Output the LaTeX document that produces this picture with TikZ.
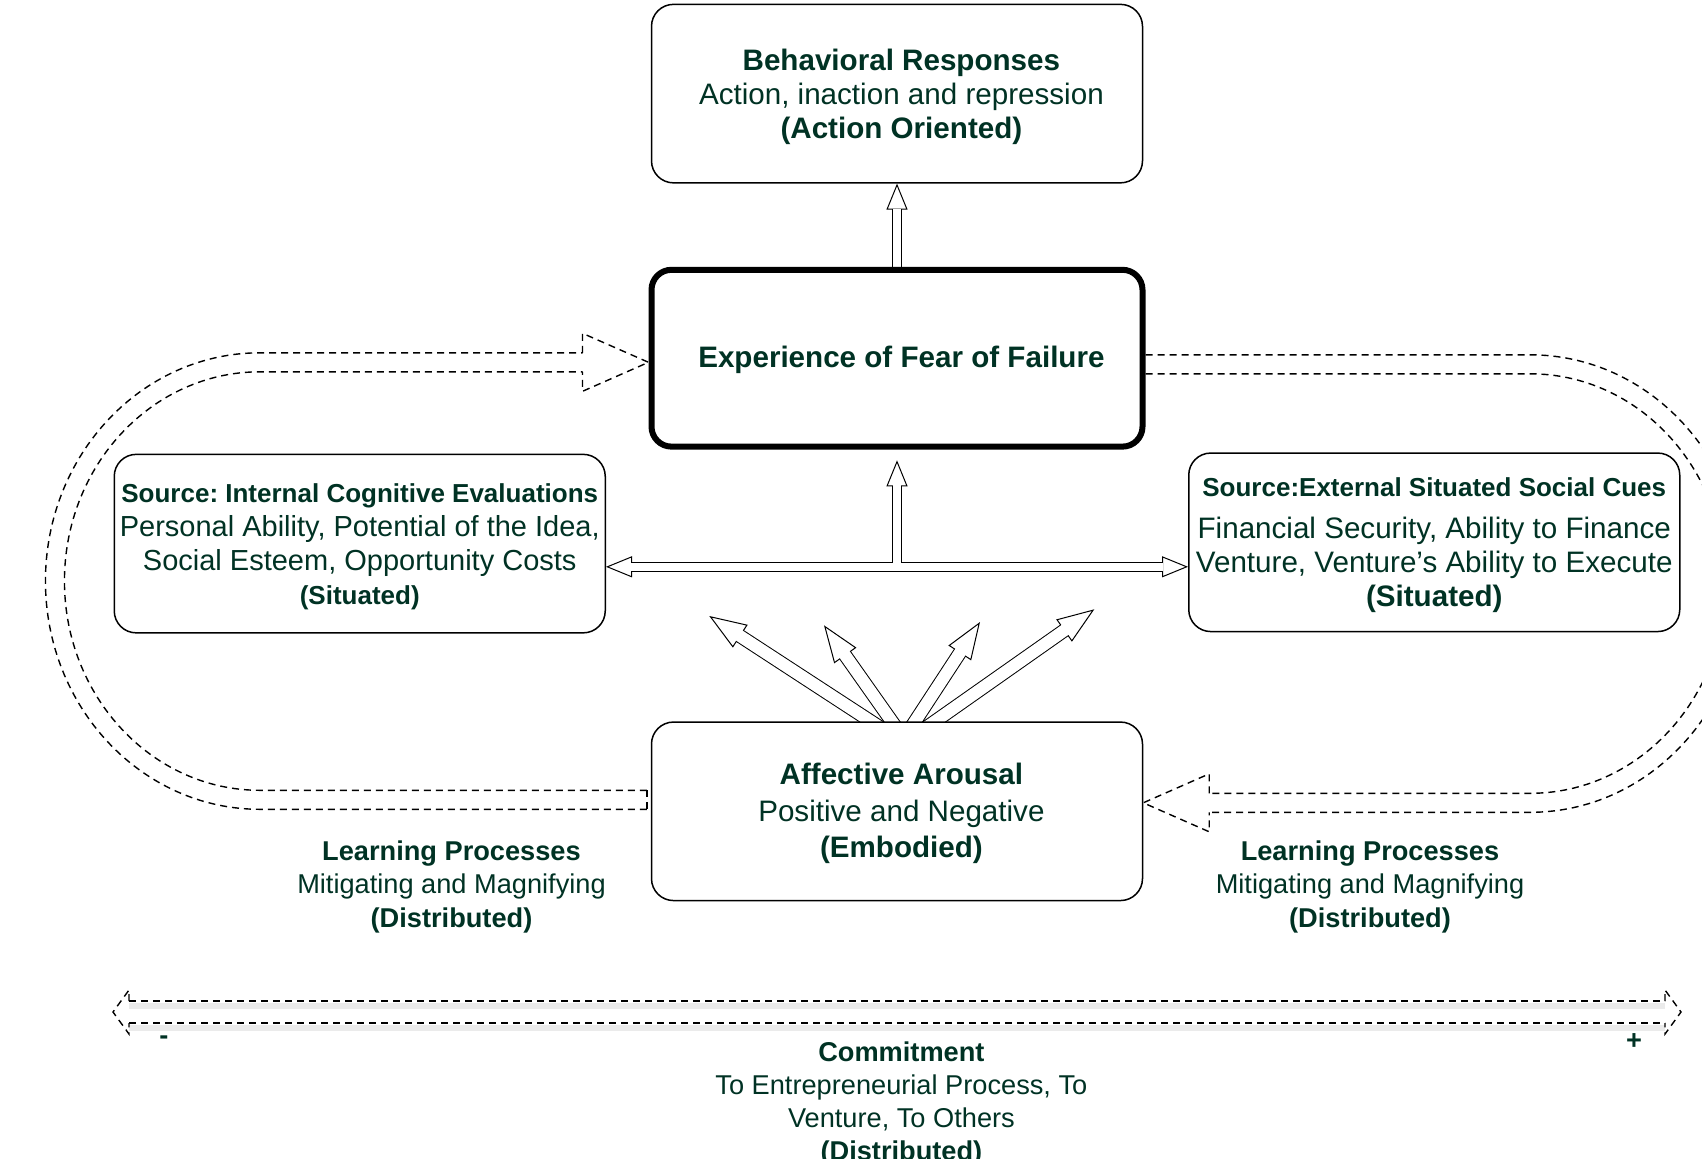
\documentclass[tikz,border=0pt]{standalone}
\usepackage{fontspec}
\setmainfont{Liberation Sans}
\usepackage{tikz}
\usetikzlibrary{positioning, arrows.meta, backgrounds}
\frenchspacing
\definecolor{inkgreen}{RGB}{0,50,36}
\newcommand{\rs}{\hspace*{4.4pt}}
\tikzstyle{mainbox} = [rectangle, rounded corners=11pt,
minimum width=245.5pt,
minimum height=89.25pt,
inner sep=1pt,
text centered, align=center, text depth=-1pt,
draw=black, line width=0.75pt, fill=white,
text=inkgreen, font=\fontsize{14.8}{17}\selectfont]
\tikzstyle{fearbox} = [mainbox, minimum height=88.4pt, line width=3pt, rounded corners=10pt]
\tikzstyle{notetext} = [align=center, inner sep=0pt, text=inkgreen,
font=\fontsize{13.6}{16.75}\selectfont]
\tikzstyle{flex} = [draw=white, line width=4pt, shorten >=12.5pt,
preaction={draw=white, line width=0.1pt, shorten >=0pt,
-{Triangle[open, color=black, line width=0.5pt, length=13pt, width=10.5pt]}},
preaction={draw=black, line width=5pt, shorten >=12.8pt}]
\tikzstyle{fanflex} = [draw=white, line width=6pt, shorten >=17.5pt,
preaction={draw=white, line width=0.1pt, shorten >=0pt,
-{Triangle[open, color=black, line width=0.5pt, length=18.5pt, width=13.5pt]}},
preaction={draw=black, line width=7pt, shorten >=18.2pt}]
\tikzstyle{dashline} = [draw=black, line width=0.7pt, dash pattern=on 3.5pt off 2.5pt]

\begin{document}
\begin{tikzpicture}
\useasboundingbox (0,0) rectangle (851pt,-579pt);
% boxes
\node (beh) [mainbox] at (448.5pt,-46.8pt) {\rs{\bfseries Behavioral Responses}\\
\rs Action, inaction and repression\\\rs{\bfseries (Action Oriented)}};
\node (fear) [fearbox, below=41.6pt of beh, text depth=1pt] {\rs\bfseries Experience of Fear of Failure};
\node (affect) [mainbox, below=135.85pt of fear, text depth=1pt,
font=\fontsize{14.8}{18.25}\selectfont]
{\rs{\bfseries Affective Arousal}\\\rs Positive and Negative\\\rs{\bfseries (Embodied)}};
\node (internal) [mainbox, below left=2pt and 21.25pt of fear, text depth=-2pt]
{{\fontsize{13}{17}\selectfont\bfseries Source: Internal Cognitive Evaluations}\\
{\fontsize{14.5}{17}\selectfont Personal Ability, Potential of the Idea,}\\
{\fontsize{14.5}{17}\selectfont Social Esteem, Opportunity Costs}\\
{\fontsize{13}{17}\selectfont\bfseries (Situated)}};
\node (external) [mainbox, below right=1.35pt and 21.25pt of fear]
{{\fontsize{13}{17}\selectfont\bfseries Source:External Situated Social Cues}\\[4pt]
Financial Security, Ability to Finance\\
Venture, Venture’s Ability to Execute\\
{\bfseries (Situated)}};
% labels
\node (learnleft) [notetext] at (225.75pt,-443.35pt)
{{\bfseries Learning Processes}\\Mitigating and Magnifying\\{\bfseries (Distributed)}};
\node (learnright) [notetext] at (685pt,-443.35pt)
{{\bfseries Learning Processes}\\Mitigating and Magnifying\\{\bfseries (Distributed)}};
\node (commit) [notetext, font=\fontsize{13.6}{16.5}\selectfont] at (450.7pt,-551.85pt)
{{\bfseries Commitment}\\To Entrepreneurial Process, To\\Venture, To Others\\{\bfseries (Distributed)}};
\node (minus) [notetext, font=\bfseries\fontsize{13.6}{16}\selectfont] at (82pt,-520pt) {-};
\node (plus) [notetext, font=\bfseries\fontsize{13.6}{16}\selectfont] at (817pt,-521pt) {+};

\coordinate (lefttip) at ([yshift=-11.6pt]internal.east);
\coordinate (hub) at (lefttip -| fear.south);
\coordinate (righttip) at (hub -| external.west);
\coordinate (hubtop) at ([yshift=-5.35pt]fear.south);
\coordinate (fan1) at ([shift={(-93.85pt,52.65pt)}]affect.north);
\coordinate (fan2) at ([shift={(-36.5pt,48pt)}]affect.north);
\coordinate (fan3) at ([shift={(41.5pt,49.65pt)}]affect.north);
\coordinate (fan4) at ([shift={(98.65pt,56pt)}]affect.north);
\coordinate (ltail) at ([xshift=-1.9pt, yshift=5.75pt]affect.west);
\coordinate (ltip) at ([yshift=-2.05pt]fear.west);
\coordinate (lhead) at ([xshift=-33pt]ltip);
\coordinate (rtail) at ([yshift=-3.05pt]fear.east);
\coordinate (rtip) at ([yshift=4.25pt]affect.east);
\coordinate (rhead) at ([xshift=33pt]rtip);
\coordinate (axleft) at (56.5pt,-506pt);
\coordinate (axright) at (840.5pt,-506pt);

\begin{scope}[on background layer]
\draw[flex] (fear) -- (beh);
\draw[flex] (hub) -- (lefttip);
\draw[flex] (hub) -- (righttip);
\draw[flex] ([yshift=2pt]hub) -- (hubtop);
\draw[fanflex] ([shift={(-3.9pt,-6pt)}]affect.north) -- (fan1);
\draw[fanflex] ([shift={(1.6pt,-6pt)}]affect.north) -- (fan2);
\draw[fanflex] ([shift={(5.1pt,-6pt)}]affect.north) -- (fan3);
\draw[fanflex] ([shift={(10.5pt,-6pt)}]affect.north) -- (fan4);
% learning loop, left
\draw[dashline] ([yshift=-4.75pt]ltail) -- ++(-193.5pt,0)
  arc[start angle=270, end angle=90, x radius=107.25pt, y radius=114.125pt] -- ([yshift=4.75pt]lhead);
\draw[dashline] ([yshift=4.75pt]ltail) -- ++(-193.5pt,0)
  arc[start angle=270, end angle=90, x radius=97.75pt, y radius=104.625pt] -- ([yshift=-4.75pt]lhead);
\draw[dashline] ([yshift=4.75pt]lhead) -- ([yshift=14.5pt]lhead) -- (ltip)
  -- ([yshift=-14.5pt]lhead) -- ([yshift=-4.75pt]lhead);
\draw[dashline] ([yshift=4.75pt]ltail) -- ([yshift=-4.75pt]ltail);
% learning loop, right
\draw[dashline] ([yshift=4.75pt]rtail) -- ++(192.25pt,0)
  arc[start angle=90, end angle=-90, x radius=107.25pt, y radius=114.375pt] -- ([yshift=-4.75pt]rhead);
\draw[dashline] ([yshift=-4.75pt]rtail) -- ++(192.25pt,0)
  arc[start angle=90, end angle=-90, x radius=97.75pt, y radius=104.875pt] -- ([yshift=4.75pt]rhead);
\draw[dashline] ([yshift=4.75pt]rhead) -- ([yshift=14.5pt]rhead) -- (rtip)
  -- ([yshift=-14.5pt]rhead) -- ([yshift=-4.75pt]rhead);
% commitment axis
\draw[black!8, line width=3pt] ([shift={(8pt,3pt)}]axleft) -- ([shift={(-8pt,3pt)}]axright);
\draw[black!8, line width=3pt] ([shift={(8pt,-8pt)}]axleft) -- ([shift={(-8pt,-8pt)}]axright);
\draw[dashline] ([shift={(8pt,5.5pt)}]axleft) -- ([shift={(-8pt,5.5pt)}]axright);
\draw[dashline] ([shift={(8pt,-5.5pt)}]axleft) -- ([shift={(-8pt,-5.5pt)}]axright);
\draw[dashline] ([shift={(8pt,5.5pt)}]axleft) -- ([shift={(8pt,11pt)}]axleft) -- (axleft)
  -- ([shift={(8pt,-11pt)}]axleft) -- ([shift={(8pt,-5.5pt)}]axleft);
\draw[dashline] ([shift={(-8pt,5.5pt)}]axright) -- ([shift={(-8pt,11pt)}]axright) -- (axright)
  -- ([shift={(-8pt,-11pt)}]axright) -- ([shift={(-8pt,-5.5pt)}]axright);
\end{scope}
\end{tikzpicture}
\end{document}
